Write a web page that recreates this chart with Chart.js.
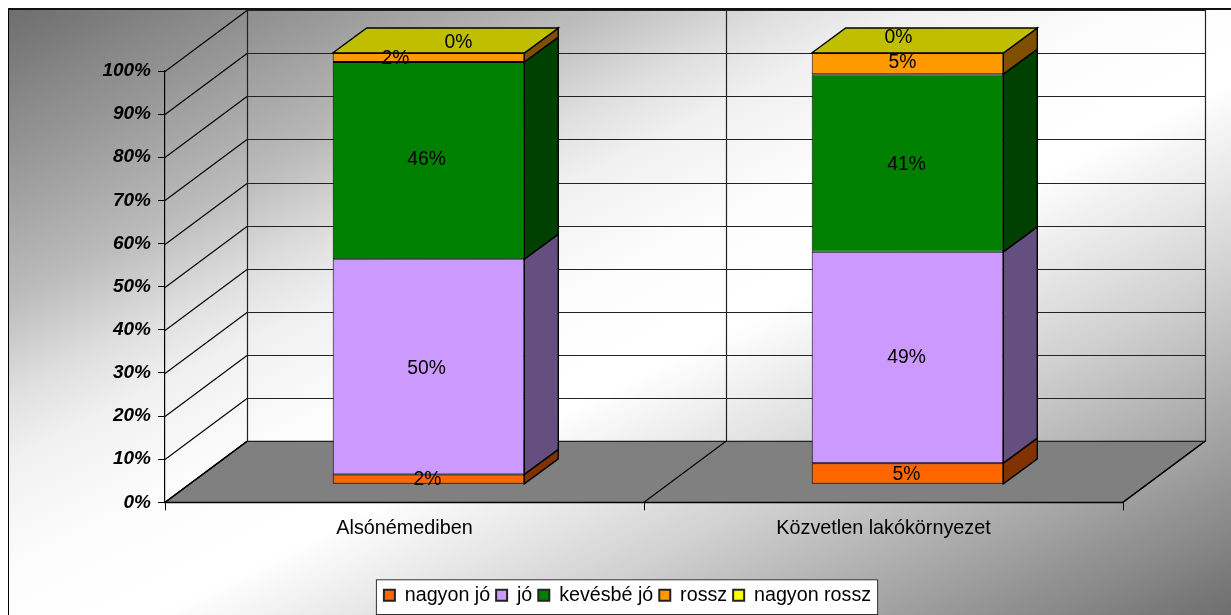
<!DOCTYPE html>
<html>
<head>
<meta charset="utf-8">
<title>Alsónémedi</title>
<script src="https://cdn.jsdelivr.net/npm/chart.js@4"></script>
<style>
	html, body { margin: 0; padding: 0; background: #fff; overflow: hidden; }
	#wrap { position: relative; width: 1231px; height: 615px; overflow: hidden; }
	#bg {
		position: absolute; left: 8px; top: 8px; width: 1223px; height: 607px;
		box-sizing: border-box; border-left: 1px solid #000; border-top: 2px solid #111;
		background: linear-gradient(to bottom right, #6e6e6e 0%, #bcbcbc 24%, #e0e0e0 32%, #f0f0f0 37%, #fdfdfd 47%, #ffffff 56%, #d0d0d0 72%, #a0a0a0 86%, #6e6e6e 100%);
	}
	canvas { position: absolute; left: 0; top: 0; }
</style>
</head>
<body>
<div id="wrap">
	<div id="bg"></div>
	<canvas id="chart" width="1231" height="615"></canvas>
</div>
<script>
// Adatok
const categories = ['Alsónémediben', 'Közvetlen lakókörnyezet']
const seriesNames = ['nagyon jó', 'jó', 'kevésbé jó', 'rossz', 'nagyon rossz']
const nagyonJo = [2.3, 4.9]
const jo = [49.9, 49.0]
const kevesbeJo = [45.7, 41.2]
const rossz = [2.1, 4.9]
const nagyonRossz = [0, 0]
const tickValues = [0, 10, 20, 30, 40, 50, 60, 70, 80, 90, 100]

const seriesValues = [nagyonJo, jo, kevesbeJo, rossz, nagyonRossz]
const seriesColors = ['#FF6600', '#CC99FF', '#008000', '#FF9900', '#FFFF00']
const sideColors = ['#803300', '#654F80', '#004000', '#804F00', '#808000']
const topColor = '#BFBF00'

// 3D offsets: whole floor depth, bar plane offset, bar depth
const wall = { dx: 82, dy: -61 }
const plane = { dx: 24, dy: -18 }
const depth = { dx: 34, dy: -25 }

// Excel kept the hand moved labels, [dataset][category] => [dx, dy]
const labelNudge = [
	[[-1, -1], [-1, 0]],
	[[-2, 0], [-1, -1]],
	[[-2, -2], [-1, 0]],
	[[-33, 0], [-5, -2]],
	[[30, -12], [-9, -17]]
]

const FONT = '"Liberation Sans", Arial, sans-serif'

function poly(ctx, pts, fill, stroke, width) {
	ctx.beginPath()
	pts.forEach((p, i) => i ? ctx.lineTo(p[0], p[1]) : ctx.moveTo(p[0], p[1]))
	ctx.closePath()
	if (fill) {
		ctx.fillStyle = fill
		ctx.fill()
	}
	if (stroke) {
		ctx.strokeStyle = stroke
		ctx.lineWidth = width || 1
		ctx.stroke()
	}
}

function line(ctx, x1, y1, x2, y2, color, width) {
	ctx.beginPath()
	ctx.moveTo(x1, y1)
	ctx.lineTo(x2, y2)
	ctx.strokeStyle = color
	ctx.lineWidth = width || 1
	ctx.stroke()
}

const room3d = {
	id: 'room3d',
	afterLayout(chart) {
		// the legend sits off centre in the original
		const legend = chart.legend
		legend.left += 66
		legend.right += 66
	},
	beforeDraw(chart) {
		const ctx = chart.ctx
		const boxes = chart.legend.legendHitBoxes
		const last = boxes[boxes.length - 1]
		const left = boxes[0].left - 8
		const right = last.left + last.width + 6
		ctx.save()
		ctx.fillStyle = '#fff'
		ctx.fillRect(left + 0.5, chart.legend.top + 0.5, right - left, chart.legend.height - 1)
		ctx.strokeStyle = '#333'
		ctx.lineWidth = 1
		ctx.strokeRect(left + 0.5, chart.legend.top + 0.5, right - left, chart.legend.height - 1)
		ctx.restore()
	},
	beforeDatasetsDraw(chart) {
		const ctx = chart.ctx
		const y = chart.scales.y
		const area = chart.chartArea
		const step = (area.right - area.left) / categories.length
		ctx.save()

		// padló
		poly(ctx, [
			[area.left, area.bottom],
			[area.right, area.bottom],
			[area.right + wall.dx, area.bottom + wall.dy],
			[area.left + wall.dx, area.bottom + wall.dy]
		], '#808080', '#000', 1.2)

		// falak
		tickValues.forEach((v) => {
			const py = Math.round(y.getPixelForValue(v)) + 0.5
			line(ctx, area.left, py, area.left + wall.dx, py + wall.dy, '#000', 1.1)
			line(ctx, area.left + wall.dx, py + wall.dy, area.right + wall.dx, py + wall.dy, '#222', 1.2)
		})
		for (let i = 0; i <= categories.length; i++) {
			const px = area.left + i * step
			line(ctx, px, area.bottom, px + wall.dx, area.bottom + wall.dy, '#000', 1.1)
			line(ctx, px + wall.dx + 0.5, area.bottom + wall.dy, px + wall.dx + 0.5, area.top + wall.dy, '#222', 1.2)
		}

		// oszlopok oldala és teteje
		ctx.translate(plane.dx, plane.dy)
		seriesValues.forEach((values, d) => {
			const meta = chart.getDatasetMeta(d)
			meta.data.forEach((bar) => {
				const r = bar.x + bar.width / 2
				poly(ctx, [
					[r, bar.y],
					[r + depth.dx, bar.y + depth.dy],
					[r + depth.dx, bar.base + depth.dy],
					[r, bar.base]
				], sideColors[d], '#000', 1.4)
				if (d === seriesValues.length - 1) {
					const l = bar.x - bar.width / 2
					poly(ctx, [
						[l, bar.y],
						[l + depth.dx, bar.y + depth.dy],
						[r + depth.dx, bar.y + depth.dy],
						[r, bar.y]
					], topColor, '#000', 1.4)
				}
			})
		})
		ctx.restore()

		ctx.save()
		ctx.translate(plane.dx, plane.dy)
	},
	afterDatasetsDraw(chart) {
		const ctx = chart.ctx
		ctx.restore()

		// adatfeliratok
		ctx.save()
		ctx.font = '19.3px ' + FONT
		ctx.fillStyle = '#000'
		ctx.textAlign = 'center'
		ctx.textBaseline = 'middle'
		seriesValues.forEach((values, d) => {
			chart.getDatasetMeta(d).data.forEach((bar, c) => {
				const n = labelNudge[d][c]
				ctx.fillText(Math.round(values[c]) + '%',
					bar.x + plane.dx + n[0],
					(bar.y + bar.base) / 2 + plane.dy + n[1] + 1.5)
			})
		})
		ctx.restore()
	}
}

const datasets = seriesNames.map((name, i) => ({
	label: name,
	data: seriesValues[i],
	backgroundColor: seriesColors[i],
	borderColor: '#000',
	borderWidth: 1,
	borderSkipped: false,
	clip: false
}))

new Chart(document.getElementById('chart'), {
	type: 'bar',
	data: { labels: categories, datasets: datasets },
	plugins: [room3d],
	options: {
		responsive: false,
		animation: false,
		devicePixelRatio: 1,
		categoryPercentage: 0.4,
		barPercentage: 1,
		layout: { padding: { top: 71, right: 108, bottom: 0, left: 0 } },
		plugins: {
			tooltip: { enabled: false },
			title: { display: false },
			legend: {
				position: 'bottom',
				labels: {
					boxWidth: 11,
					boxHeight: 11,
					padding: 6,
					color: '#000',
					font: { family: FONT, size: 19.7 },
					generateLabels(chart) {
						const items = Chart.defaults.plugins.legend.labels.generateLabels(chart)
						items.forEach((item) => { item.lineWidth = 2; item.strokeStyle = '#222' })
						return items
					}
				}
			}
		},
		scales: {
			x: {
				stacked: true,
				afterFit(scale) { scale.height = 77 },
				grid: { drawOnChartArea: false, drawTicks: true, tickLength: 8, color: '#000' },
				border: { color: '#000', width: 1.2 },
				ticks: { color: '#000', padding: 6, font: { family: FONT, size: 19.8 } }
			},
			y: {
				stacked: true,
				min: 0,
				max: 100,
				afterFit(scale) { scale.width = 165 },
				grid: { drawOnChartArea: false, drawTicks: true, tickLength: 7, color: '#000' },
				border: { color: '#000', width: 1.2 },
				ticks: {
					stepSize: 10,
					color: '#000',
					padding: 7,
					font: { family: FONT, size: 19, weight: 'bold', style: 'italic' },
					callback: (v) => v + '%'
				}
			}
		}
	}
})
</script>
</body>
</html>
